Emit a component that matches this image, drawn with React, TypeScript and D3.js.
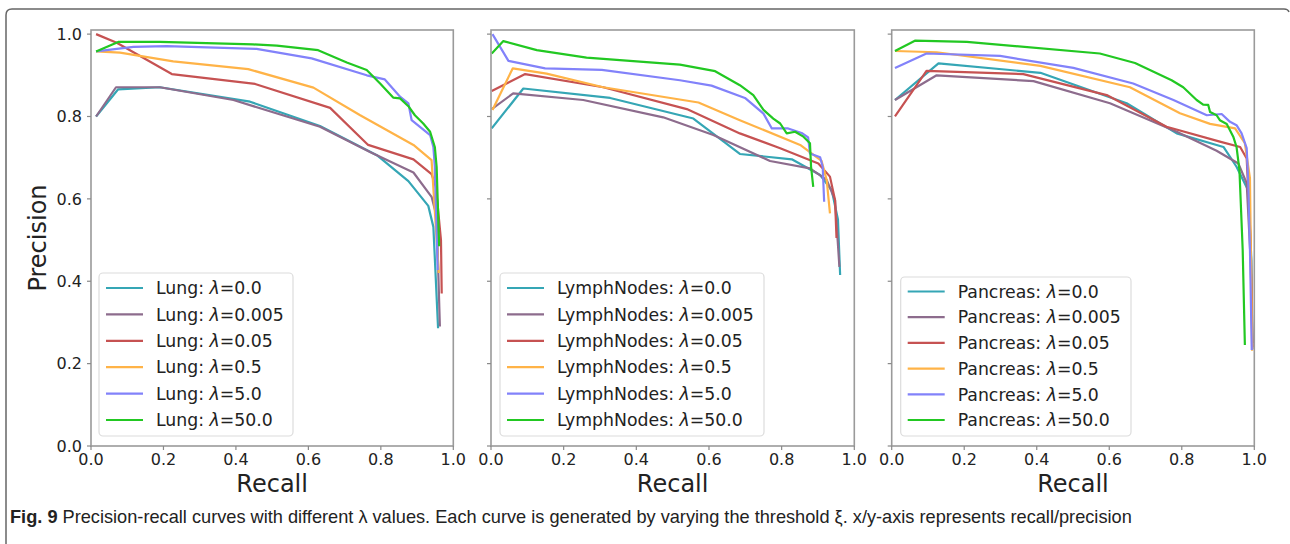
import React from "react";
import * as d3 from "d3";

// ---------- DATA ----------
const lambdaValues = ["0.0", "0.005", "0.05", "0.5", "5.0", "50.0"];
const seriesColors = ["#35a6b5", "#8d6c8d", "#c65252", "#ffb347", "#8282fa", "#22c822"];
const organs = ["Lung", "LymphNodes", "Pancreas"];
const xTicks = [0, 0.2, 0.4, 0.6, 0.8, 1.0];
const yTicks = [0, 0.2, 0.4, 0.6, 0.8, 1.0];

// Lung: [recall, precision]
const lung_0: [number, number][] = [[0.014, 0.8], [0.075, 0.866], [0.19, 0.871], [0.439, 0.836], [0.632, 0.777], [0.789, 0.706], [0.876, 0.643], [0.931, 0.583], [0.945, 0.532], [0.958, 0.286]];
const lung_0005: [number, number][] = [[0.014, 0.8], [0.069, 0.871], [0.19, 0.871], [0.393, 0.84], [0.632, 0.775], [0.77, 0.714], [0.89, 0.664], [0.94, 0.605], [0.954, 0.557], [0.963, 0.29]];
const lung_005: [number, number][] = [[0.014, 1.0], [0.071, 0.979], [0.223, 0.903], [0.453, 0.879], [0.66, 0.821], [0.765, 0.731], [0.89, 0.696], [0.94, 0.66], [0.952, 0.629], [0.966, 0.5], [0.968, 0.37]];
const lung_05: [number, number][] = [[0.014, 0.958], [0.08, 0.955], [0.227, 0.934], [0.434, 0.915], [0.614, 0.87], [0.743, 0.803], [0.89, 0.731], [0.94, 0.694], [0.96, 0.42]];
const lung_5: [number, number][] = [[0.014, 0.958], [0.117, 0.969], [0.209, 0.971], [0.457, 0.964], [0.609, 0.941], [0.761, 0.9], [0.811, 0.89], [0.853, 0.848], [0.876, 0.832], [0.885, 0.791], [0.936, 0.755], [0.945, 0.726], [0.949, 0.678], [0.957, 0.427]];
const lung_50: [number, number][] = [[0.014, 0.958], [0.075, 0.981], [0.19, 0.981], [0.447, 0.975], [0.513, 0.972], [0.627, 0.961], [0.706, 0.931], [0.761, 0.913], [0.798, 0.88], [0.834, 0.846], [0.853, 0.844], [0.876, 0.825], [0.894, 0.803], [0.917, 0.783], [0.936, 0.763], [0.949, 0.726], [0.954, 0.678], [0.961, 0.485]];

// LymphNodes
const lymph_0: [number, number][] = [[0.002, 0.771], [0.089, 0.868], [0.328, 0.845], [0.557, 0.795], [0.685, 0.709], [0.828, 0.696], [0.906, 0.658], [0.938, 0.621], [0.955, 0.55], [0.961, 0.415]];
const lymph_0005: [number, number][] = [[0.002, 0.818], [0.061, 0.856], [0.254, 0.84], [0.474, 0.798], [0.612, 0.755], [0.768, 0.692], [0.878, 0.674], [0.924, 0.646], [0.947, 0.597], [0.959, 0.435]];
const lymph_005: [number, number][] = [[0.002, 0.862], [0.094, 0.903], [0.309, 0.871], [0.539, 0.818], [0.685, 0.759], [0.796, 0.723], [0.901, 0.686], [0.933, 0.654], [0.947, 0.597], [0.951, 0.505]];
const lymph_05: [number, number][] = [[0.004, 0.816], [0.06, 0.917], [0.153, 0.904], [0.309, 0.871], [0.571, 0.834], [0.685, 0.791], [0.851, 0.731], [0.91, 0.692], [0.924, 0.646], [0.933, 0.565]];
const lymph_5: [number, number][] = [[0.004, 1.0], [0.048, 0.935], [0.149, 0.917], [0.305, 0.913], [0.52, 0.888], [0.607, 0.875], [0.699, 0.845], [0.75, 0.807], [0.773, 0.771], [0.818, 0.771], [0.855, 0.76], [0.873, 0.749], [0.878, 0.71], [0.906, 0.701], [0.913, 0.678], [0.917, 0.593]];
const lymph_50: [number, number][] = [[0.002, 0.953], [0.034, 0.983], [0.126, 0.961], [0.263, 0.943], [0.52, 0.926], [0.617, 0.91], [0.685, 0.876], [0.722, 0.852], [0.75, 0.816], [0.777, 0.795], [0.796, 0.783], [0.814, 0.759], [0.837, 0.763], [0.86, 0.751], [0.878, 0.735], [0.881, 0.678], [0.887, 0.629]];

// Pancreas
const panc_0: [number, number][] = [[0.009, 0.84], [0.129, 0.929], [0.41, 0.906], [0.648, 0.832], [0.786, 0.759], [0.915, 0.726], [0.951, 0.678], [0.983, 0.621], [0.992, 0.45], [0.995, 0.25]];
const panc_0005: [number, number][] = [[0.009, 0.84], [0.124, 0.9], [0.391, 0.886], [0.602, 0.832], [0.786, 0.763], [0.896, 0.717], [0.956, 0.686], [0.979, 0.638], [0.99, 0.45], [0.995, 0.235]];
const panc_005: [number, number][] = [[0.009, 0.8], [0.096, 0.911], [0.363, 0.903], [0.593, 0.852], [0.758, 0.775], [0.905, 0.739], [0.961, 0.726], [0.979, 0.698], [0.99, 0.5], [0.995, 0.24]];
const panc_05: [number, number][] = [[0.009, 0.959], [0.124, 0.956], [0.41, 0.923], [0.657, 0.871], [0.795, 0.808], [0.878, 0.782], [0.947, 0.771], [0.974, 0.735], [0.988, 0.65], [0.994, 0.231]];
const panc_5: [number, number][] = [[0.009, 0.918], [0.096, 0.953], [0.299, 0.947], [0.501, 0.918], [0.666, 0.88], [0.777, 0.84], [0.869, 0.803], [0.91, 0.806], [0.933, 0.787], [0.951, 0.779], [0.965, 0.759], [0.979, 0.723], [0.983, 0.646], [0.988, 0.476], [0.993, 0.233]];
const panc_50: [number, number][] = [[0.009, 0.959], [0.064, 0.984], [0.207, 0.981], [0.574, 0.953], [0.671, 0.93], [0.772, 0.888], [0.804, 0.871], [0.841, 0.84], [0.859, 0.829], [0.873, 0.828], [0.878, 0.811], [0.896, 0.803], [0.905, 0.791], [0.924, 0.782], [0.942, 0.751], [0.951, 0.726], [0.959, 0.67], [0.968, 0.476], [0.974, 0.245]];

const panelData = [
  [lung_0, lung_0005, lung_005, lung_05, lung_5, lung_50],
  [lymph_0, lymph_0005, lymph_005, lymph_05, lymph_5, lymph_50],
  [panc_0, panc_0005, panc_005, panc_05, panc_5, panc_50],
];

// ---------- LAYOUT ----------
const W = 1290;
const H = 544;
const plotTop = 30;
const plotBottom = 446;
const panels = [
  { x0: 91, x1: 453.3, leg: { x: 99, y: 273, w: 194, h: 163, row0: 288, gap: 26.4 } },
  { x0: 491, x1: 854.3, leg: { x: 500, y: 273, w: 264, h: 163, row0: 288, gap: 26.4 } },
  { x0: 891.7, x1: 1254.3, leg: { x: 900.7, y: 277, w: 230.3, h: 159, row0: 291.5, gap: 25.7 } },
];
const FONT = "'DejaVu Sans', sans-serif";

export default function App() {
  const y = d3.scaleLinear().domain([0, 1.01]).range([plotBottom, plotTop]);
  return (
    <svg width={W} height={H} style={{ position: "absolute", left: 0, top: 0, background: "#fff" }}>
      <rect x={0} y={0} width={W} height={H} fill="#fff" />
      {/* outer frame */}
      <path d="M6,544 L6,15 Q6,9 12,9 L1284,9 Q1288,9 1289,12" fill="none" stroke="#666" strokeWidth={1.5} />
      {panels.map((p, pi) => {
        const x = d3.scaleLinear().domain([0, 1]).range([p.x0, p.x1]);
        const line = d3
          .line<[number, number]>()
          .x((d) => x(d[0]))
          .y((d) => y(d[1]));
        const cx = (p.x0 + p.x1) / 2;
        return (
          <g key={pi} fontFamily={FONT}>
            <defs>
              <clipPath id={`clip${pi}`}>
                <rect x={p.x0} y={plotTop} width={p.x1 - p.x0} height={plotBottom - plotTop} />
              </clipPath>
            </defs>
            <g clipPath={`url(#clip${pi})`}>
              {panelData[pi].map((s, si) => (
                <path key={si} d={line(s) || ""} fill="none" stroke={seriesColors[si]} strokeWidth={2.2} strokeLinejoin="round" />
              ))}
            </g>
            {/* spines */}
            <rect x={p.x0} y={plotTop} width={p.x1 - p.x0} height={plotBottom - plotTop} fill="none" stroke="#9a9a9a" strokeWidth={1.6} />
            {/* x ticks */}
            {xTicks.map((t) => (
              <g key={`x${t}`}>
                <line x1={x(t)} x2={x(t)} y1={plotBottom} y2={plotBottom + 4} stroke="#8a8a8a" strokeWidth={1.2} />
                <text x={x(t)} y={465} fontSize={16} textAnchor="middle" fill="#222">
                  {t.toFixed(1)}
                </text>
              </g>
            ))}
            {/* y ticks */}
            {yTicks.map((t) => (
              <g key={`y${t}`}>
                <line x1={p.x0 - 4} x2={p.x0} y1={y(t)} y2={y(t)} stroke="#8a8a8a" strokeWidth={1.2} />
                {pi === 0 && (
                  <text x={p.x0 - 9} y={y(t)} dy="0.36em" fontSize={16} textAnchor="end" fill="#222">
                    {t.toFixed(1)}
                  </text>
                )}
              </g>
            ))}
            <text x={cx} y={492} fontSize={24} textAnchor="middle" fill="#222">
              Recall
            </text>
            {pi === 0 && (
              <text transform={`translate(46,${(plotTop + plotBottom) / 2}) rotate(-90)`} fontSize={24} textAnchor="middle" fill="#222">
                Precision
              </text>
            )}
            {/* legend */}
            <rect x={p.leg.x} y={p.leg.y} width={p.leg.w} height={p.leg.h} rx={4} fill="#fff" fillOpacity={0.85} stroke="#dcdcdc" strokeWidth={1.2} />
            {lambdaValues.map((lv, si) => {
              const ry = p.leg.row0 + si * p.leg.gap;
              return (
                <g key={`l${si}`}>
                  <line x1={p.leg.x + 7} x2={p.leg.x + 44} y1={ry} y2={ry} stroke={seriesColors[si]} strokeWidth={2.2} />
                  <text x={p.leg.x + 57} y={ry} dy="0.36em" fontSize={17.3} fill="#222">
                    {organs[pi]}: <tspan fontStyle="italic">λ</tspan>={lv}
                  </text>
                </g>
              );
            })}
          </g>
        );
      })}
      {/* caption */}
      <text x={10} y={523} fontSize={18.2} fill="#222" fontFamily="'Liberation Sans', Arial, sans-serif">
        <tspan fontWeight="bold">Fig. 9</tspan> Precision-recall curves with different λ values. Each curve is generated by varying the threshold ξ. x/y-axis represents recall/precision
      </text>
    </svg>
  );
}
